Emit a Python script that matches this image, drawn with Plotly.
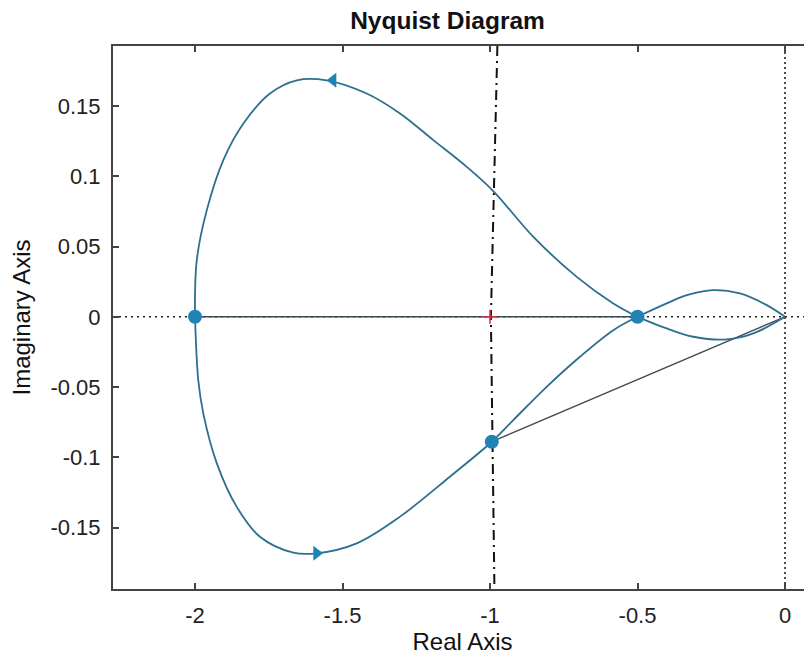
import plotly.graph_objects as go

# ---- data ----
upper_x = [-0.5, -0.582, -0.706, -0.853, -0.989, -1.079, -1.192, -1.305, -1.418, -1.554, -1.655, -1.746, -1.836, -1.904, -1.960, -1.994, -2.0]
upper_y = [0.0, 0.0095, 0.0284, 0.0569, 0.0895, 0.1067, 0.1257, 0.1447, 0.1589, 0.1683, 0.1683, 0.1589, 0.1375, 0.1115, 0.0759, 0.0403, 0.0]

lower_x = [-2.0, -1.989, -1.972, -1.926, -1.859, -1.780, -1.667, -1.588, -1.452, -1.305, -1.136, -0.994, -0.921, -0.808, -0.695, -0.582, -0.5]
lower_y = [0.0, -0.045, -0.0687, -0.1043, -0.1351, -0.1565, -0.1678, -0.1683, -0.1612, -0.1422, -0.1138, -0.0889, -0.0735, -0.0498, -0.0284, -0.0095, 0.0]

loop_upper_x = [-0.5, -0.401, -0.333, -0.243, -0.153, -0.062, 0.0]
loop_upper_y = [0.0, 0.0095, 0.0154, 0.019, 0.0166, 0.0083, 0.0]

loop_lower_x = [-0.5, -0.401, -0.311, -0.198, -0.107, 0.0]
loop_lower_y = [0.0, -0.0083, -0.0142, -0.0161, -0.0118, 0.0]

real_segment_x = [-2.0, -0.5]
real_segment_y = [0.0, 0.0]

chord_x = [-0.994, 0.0]
chord_y = [-0.0889, 0.0]

key_points_x = [-2.0, -0.5, -0.994]
key_points_y = [0.0, 0.0, -0.0889]

arrow_left_x = [-1.532]
arrow_left_y = [0.1683]
arrow_right_x = [-1.588]
arrow_right_y = [-0.1683]

critical_x = [-1.0]
critical_y = [0.0]

dashdot_x = [-0.975, -0.997, -0.985]
dashdot_y = [0.1927, 0.0, -0.1937]

x_range = [-2.278, 0.0915]
y_range = [-0.1937, 0.1927]

x_ticks = [-2, -1.5, -1, -0.5, 0]
x_tick_text = ["-2", "-1.5", "-1", "-0.5", "0"]
y_ticks = [0.15, 0.1, 0.05, 0, -0.05, -0.1, -0.15]
y_tick_text = ["0.15", "0.1", "0.05", "0", "-0.05", "-0.1", "-0.15"]

CURVE = "#2c6f8e"
MARK = "#1f83b6"
DARK = "#3d4a52"
FONT = "Liberation Sans, Arial, sans-serif"

# page body has an 8px default margin: the figure is sized to fill the window
W, H = 804, 651

fig = go.Figure()

# dotted zero axes
fig.add_trace(go.Scatter(x=x_range, y=[0, 0], mode="lines",
                         line=dict(color="#222", width=1.6, dash="2px,4px"), hoverinfo="skip"))
fig.add_trace(go.Scatter(x=[0, 0], y=y_range, mode="lines",
                         line=dict(color="#222", width=1.6, dash="2px,3px"), hoverinfo="skip"))
# dash-dot line near -1
fig.add_trace(go.Scatter(x=dashdot_x, y=dashdot_y, mode="lines",
                         line=dict(color="#111", width=2, dash="10px,5px,2px,5px"), hoverinfo="skip"))

# straight segments
fig.add_trace(go.Scatter(x=real_segment_x, y=real_segment_y, mode="lines",
                         line=dict(color=DARK, width=1.6)))
fig.add_trace(go.Scatter(x=chord_x, y=chord_y, mode="lines",
                         line=dict(color=DARK, width=1.4)))

# Nyquist curve
for xs, ys in [(upper_x, upper_y), (lower_x, lower_y),
               (loop_upper_x, loop_upper_y), (loop_lower_x, loop_lower_y)]:
    fig.add_trace(go.Scatter(x=xs, y=ys, mode="lines",
                             line=dict(color=CURVE, width=1.8, shape="spline", smoothing=1.0)))

# arrows
fig.add_trace(go.Scatter(x=arrow_left_x, y=arrow_left_y, mode="markers",
                         marker=dict(symbol="triangle-left", size=13, color=MARK)))
fig.add_trace(go.Scatter(x=arrow_right_x, y=arrow_right_y, mode="markers",
                         marker=dict(symbol="triangle-right", size=13, color=MARK)))

# critical point
fig.add_trace(go.Scatter(x=critical_x, y=critical_y, mode="markers",
                         marker=dict(symbol="cross-thin", size=10, line=dict(color="#d0304a", width=1.5))))

# key points
fig.add_trace(go.Scatter(x=key_points_x, y=key_points_y, mode="markers",
                         marker=dict(symbol="circle", size=14, color=MARK)))

fig.update_layout(
    width=W, height=H,
    margin=dict(l=105, r=0, t=38, b=70, autoexpand=False),
    paper_bgcolor="white", plot_bgcolor="white",
    showlegend=False,
    font=dict(family=FONT, color="#222", size=22),
    title=dict(text="<b>Nyquist Diagram</b>", x=439.5 / W, xanchor="center",
               y=1 - 3.5 / H, yanchor="top", yref="container",
               font=dict(size=24.5, family=FONT, color="#111")),
)
fig.update_xaxes(range=x_range, tickvals=x_ticks, ticktext=x_tick_text,
                 ticks="inside", ticklen=6, tickcolor="#444", tickwidth=1.5,
                 showline=True, mirror="ticks", linecolor="#444", linewidth=2,
                 showgrid=False, zeroline=False, automargin=False,
                 ticklabelstandoff=6,
                 tickfont=dict(size=22, family=FONT, color="#222"),
                 title=dict(text="Real Axis", font=dict(size=24, family=FONT, color="#111"), standoff=4))
fig.update_yaxes(range=y_range, tickvals=y_ticks, ticktext=y_tick_text,
                 ticks="inside", ticklen=6, tickcolor="#444", tickwidth=1.5,
                 showline=True, mirror=False, linecolor="#444", linewidth=2,
                 showgrid=False, zeroline=False, automargin=False,
                 ticklabelstandoff=6,
                 tickfont=dict(size=22, family=FONT, color="#222"),
                 title=dict(text="Imaginary Axis", font=dict(size=24, family=FONT, color="#111"), standoff=14))

fig.write_html("out.html")
